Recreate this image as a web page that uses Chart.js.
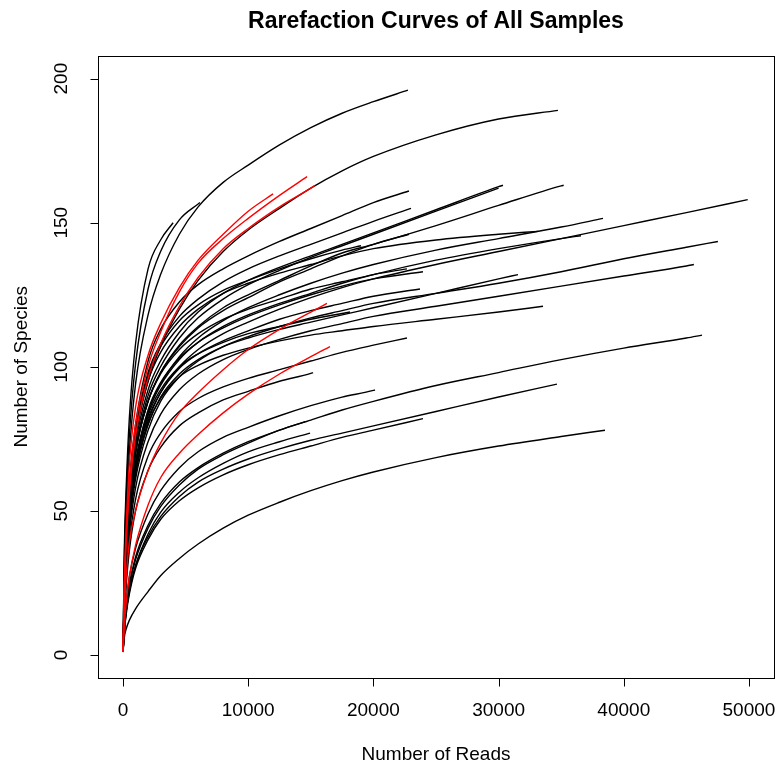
<!DOCTYPE html>
<html>
<head>
<meta charset="utf-8">
<script src="https://cdn.jsdelivr.net/npm/chart.js@4"></script>
<style>
  html, body { margin: 0; padding: 0; background: #fff; }
</style>
</head>
<body>
<canvas id="myChart" width="779" height="769"></canvas>
<script>
// read depths at which each curve is sampled (last point is the sample's own depth)
const readGrid = [0, 100, 250, 500, 1000, 2000, 3000, 4500, 6000, 8000, 10000,
  12500, 15000, 17500, 20000, 25000, 30000, 35000, 40000, 45000];

const xTicks = [0, 10000, 20000, 30000, 40000, 50000];
const yTicks = [0, 50, 100, 150, 200];

// total reads and observed species per sample
const sampleDepth = [
  22760, 4000, 6150, 11980, 14700, 15335, 34740, 22840, 23000, 30350,
  30000, 35200, 22840, 19010, 33150, 38340, 36580, 49900, 47520, 45600,
  22680, 23960, 31550, 23720, 18130, 33550, 22680, 16290, 16530, 15180,
  20130, 46250, 34660, 23960, 38500, 14940, 14540,
];
const sampleSpecies = [
  196, 150, 157, 160, 166, 163, 189, 161, 155, 163,
  162, 163, 146, 142, 147, 151.5, 145.5, 158, 143.5, 135.5,
  134, 133, 132, 127, 119, 121, 110, 122, 107, 98,
  92, 111, 94, 82, 78, 77, 81,
];
const redSample = [3, 4, 5, 27, 28]; // highlighted samples (index)

// species counts at readGrid steps below each sample's depth
const c01 = [1, 30, 50, 70, 94, 118, 132, 146, 155.5, 164, 170, 177, 183, 188, 192];
const c02 = [1, 36, 58, 82, 108, 134, 144];
const c03 = [1, 33, 54, 76, 101, 127, 140, 151, 156.5];
const c04 = [1, 24, 44, 66, 86, 104, 115, 127.5, 137, 146, 154];
const c05 = [1, 23, 41, 59, 80, 100, 112, 126, 136, 144.5, 151.5, 159.5];
const c06 = [1, 22, 39, 56, 76, 96, 108, 121, 131, 141, 148, 155.5, 162];
const c07 = [1, 22, 38, 55, 75, 95, 107, 120, 130, 140, 147.5, 155, 162, 168, 173, 180.5, 186];
const c08 = [1, 22, 40, 60, 80, 102, 113, 122.5, 128.5, 134, 138.5, 143.5, 148, 152.5, 157];
const c09 = [1, 21, 38, 57, 78, 98, 108, 117.5, 123.5, 129.5, 134, 138.5, 142.5, 146.5, 150.5];
const c10 = [1, 19, 35, 53, 73, 92, 102, 112, 119, 125.5, 130, 134.5, 138.5, 142.5, 146.5, 154.5, 162.5];
const c11 = [1, 18, 34, 51, 71, 90, 100, 110, 117, 123.5, 128.5, 133.5, 138, 142, 146, 154];
const c12 = [1, 18, 33, 50, 70, 88, 98, 107.5, 114, 120.5, 125, 130, 135, 139.5, 142.5, 149, 156, 162.8];
const c13 = [1, 18, 33, 50, 70, 88, 98, 107, 113.5, 119.5, 124, 129.5, 134, 138.5, 142.5];
const c14 = [1, 21, 38, 57, 78, 97, 107, 116, 121.5, 126.5, 130, 134, 137.5, 140.5];
const c15 = [1, 20, 36, 55, 76, 95, 105, 114, 120, 125.5, 129, 132.5, 135.5, 138.5, 141, 144, 146];
const c16 = [1, 17, 31, 47, 66, 84, 94, 103.5, 110, 116, 120.5, 125, 129, 132.5, 135.5, 140.5, 144.5, 148.5];
const c17 = [1, 17, 31, 47, 66, 84, 93.5, 102.5, 108.5, 114, 118, 122, 125.5, 129, 132, 137, 141, 144.5];
const c18 = [1, 16, 30, 45, 63, 81, 91, 100, 106, 111.5, 115.5, 120, 124, 127.5, 130.5, 135.5, 140, 144.5, 149, 153.5];
const c19 = [1, 16, 29, 44, 61, 78, 88, 96.5, 102, 107, 110.5, 114, 117, 119.5, 122, 125.5, 129, 133, 137.5, 141.5];
const c20 = [1, 15, 28, 42, 58, 74, 83.5, 92, 97.5, 102.5, 106, 109.5, 112.5, 115, 117.5, 121, 124.5, 128, 131.5, 135];
const c21 = [1, 18, 33, 50, 70, 88, 97.5, 106, 111.5, 116.5, 120, 123.5, 127, 129.5, 132];
const c22 = [1, 17, 31, 48, 67, 85, 94.5, 103, 108.5, 113.5, 117.5, 121.5, 125, 128, 130.5];
const c23 = [1, 16, 30, 45, 63, 80, 89.5, 97.5, 102.5, 107, 110, 113, 115.5, 118, 120.5, 125.5, 130.5];
const c24 = [1, 17, 31, 47, 65, 82, 91, 99.5, 104.5, 109, 112.5, 116.5, 119.5, 122, 124.5];
const c25 = [1, 17, 31, 47, 65, 83, 92, 100, 104.5, 108.5, 111.5, 114, 116.5, 118.5];
const c26 = [1, 16, 30, 45, 63, 80, 89, 96.5, 100.5, 104, 106.5, 109, 111, 112.5, 114, 116.5, 119];
const c27 = [1, 14, 26, 39, 54, 69, 77, 84.5, 89, 93, 96, 99, 102, 105, 107.5];
const c28 = [1, 15, 27, 39, 50, 64, 73.5, 84, 91, 99, 106, 113, 119];
const c29 = [1, 10, 18, 27, 38, 52, 61.5, 70, 76.5, 84, 90.5, 97.5, 103.5];
const c30 = [1, 13, 24, 36, 50, 64, 72, 79.5, 84, 88.5, 91.5, 95, 97.7];
const c31 = [1, 10, 18, 27, 37, 49, 57, 65, 70.5, 75.5, 79, 83, 86.5, 89.5, 91.8];
const c32 = [1, 9, 16, 24, 33, 44, 51.5, 59, 64.5, 69.5, 73.5, 78, 81.5, 85, 88, 93.5, 98, 102.5, 106.5, 110];
const c33 = [1, 8, 15, 22, 31, 41, 48, 55, 60, 64.5, 68, 71.5, 74.5, 77, 79.5, 84.5, 89.5];
const c34 = [1, 8, 14, 21, 30, 40, 47, 53.5, 58, 62.5, 66, 69.5, 72.5, 75.5, 78];
const c35 = [1, 6, 9, 12, 16, 22, 27.5, 33.5, 38.5, 44, 48.5, 53, 57, 60.5, 63.5, 68.5, 72.5, 75.8];
const c36 = [1, 8, 15, 22, 31, 42, 49.5, 56.5, 61.5, 66.5, 70.5, 74];
const c37 = [1, 9, 16, 24, 34, 45, 52.5, 60, 65, 70, 74, 78];

const curves = [c01, c02, c03, c04, c05, c06, c07, c08, c09, c10, c11, c12, c13,
  c14, c15, c16, c17, c18, c19, c20, c21, c22, c23, c24, c25, c26, c27, c28,
  c29, c30, c31, c32, c33, c34, c35, c36, c37];

let datasets = curves.map((vals, i) => {
  const pts = vals.map((v, k) => ({ x: readGrid[k], y: v }));
  pts.push({ x: sampleDepth[i], y: sampleSpecies[i] });
  const red = redSample.includes(i);
  return {
    label: "Sample " + (i + 1),
    data: pts,
    borderColor: red ? "#ff0000" : "#000000",
    borderWidth: 1.4,
    pointRadius: 0,
    fill: false,
    cubicInterpolationMode: "monotone",
    order: red ? 0 : 1,
  };
});

const font = "'Liberation Sans', Arial, sans-serif";

// base-R style box, axes and axis titles
const rAxes = {
  id: "rAxes",
  afterDraw(chart) {
    const { ctx, chartArea: a } = chart;
    const xs = chart.scales.x;
    const ys = chart.scales.y;
    ctx.save();
    ctx.strokeStyle = "#000";
    ctx.lineWidth = 1;
    ctx.strokeRect(Math.round(a.left) + 0.5, Math.round(a.top) + 0.5,
      Math.round(a.right - a.left), Math.round(a.bottom - a.top));

    const yb = Math.round(a.bottom) + 0.5;
    const xl = Math.round(a.left) + 0.5;
    ctx.beginPath();
    ctx.moveTo(xs.getPixelForValue(xTicks[0]), yb);
    ctx.lineTo(xs.getPixelForValue(xTicks[xTicks.length - 1]), yb);
    xTicks.forEach((v) => {
      const px = Math.round(xs.getPixelForValue(v)) + 0.5;
      ctx.moveTo(px, yb);
      ctx.lineTo(px, yb + 8);
    });
    ctx.moveTo(xl, ys.getPixelForValue(yTicks[0]));
    ctx.lineTo(xl, ys.getPixelForValue(yTicks[yTicks.length - 1]));
    yTicks.forEach((v) => {
      const py = Math.round(ys.getPixelForValue(v)) + 0.5;
      ctx.moveTo(xl, py);
      ctx.lineTo(xl - 8, py);
    });
    ctx.stroke();

    ctx.fillStyle = "#000";
    ctx.font = "19px " + font;
    ctx.textAlign = "center";
    ctx.textBaseline = "middle";
    xTicks.forEach((v) => {
      ctx.fillText(String(v), xs.getPixelForValue(v), a.bottom + 33);
    });
    ctx.fillText("Number of Reads", (a.left + a.right) / 2, a.bottom + 77);

    yTicks.forEach((v) => {
      ctx.save();
      ctx.translate(a.left - 36, ys.getPixelForValue(v));
      ctx.rotate(-Math.PI / 2);
      ctx.fillText(String(v), 0, 0);
      ctx.restore();
    });
    ctx.save();
    ctx.translate(a.left - 76, (a.top + a.bottom) / 2);
    ctx.rotate(-Math.PI / 2);
    ctx.fillText("Number of Species", 0, 0);
    ctx.restore();
    ctx.restore();
  },
};

const config = {
  type: "line",
  data: { datasets: datasets },
  options: {
    responsive: false,
    animation: false,
    layout: {
      padding: { left: 98, right: 5, top: 0, bottom: 91 },
    },
    scales: {
      x: { type: "linear", min: -2000, max: 52000, display: false },
      y: { type: "linear", min: -8, max: 208, display: false },
    },
    plugins: {
      legend: { display: false },
      tooltip: { enabled: false },
      title: {
        display: true,
        text: "Rarefaction Curves of All Samples",
        color: "#000",
        font: { family: font, size: 23, weight: "bold" },
        padding: { top: 8, bottom: 20 },
      },
    },
  },
  plugins: [rAxes],
};

let myChart = new Chart(document.getElementById("myChart"), config);
</script>
</body>
</html>
